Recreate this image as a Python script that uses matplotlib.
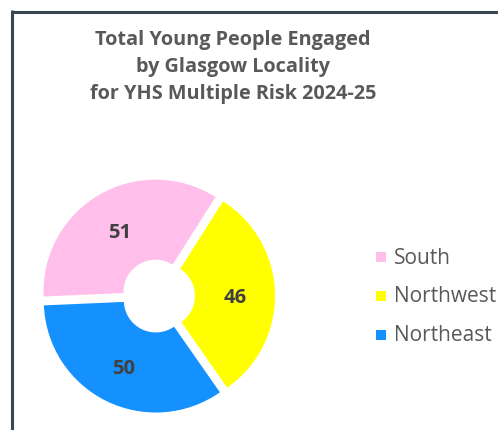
import matplotlib
matplotlib.use("Agg")
import matplotlib.pyplot as plt
from matplotlib.patches import Rectangle
from matplotlib.lines import Line2D
import numpy as np

# Data
localities = ["South", "Northwest", "Northeast"]
young_people = [51, 46, 50]
slice_colors = ["#FFBFEA", "#FFFF00", "#1591FF"]

title_lines = "Total Young People Engaged\nby Glasgow Locality\nfor YHS Multiple Risk 2024-25"

W, H = 498, 431
fig = plt.figure(figsize=(W / 100, H / 100), dpi=100)
fig.patch.set_facecolor("white")

# Chart frame (continues past the right and bottom edges)
frame_color = "#3B4654"
fig.add_artist(Line2D([11.5 / W, 1.0], [1 - 12.5 / H, 1 - 12.5 / H],
                      transform=fig.transFigure, color=frame_color, lw=2.2,
                      solid_capstyle="butt"))
fig.add_artist(Line2D([11.5 / W, 11.5 / W], [0.0, 1 - 11.4 / H],
                      transform=fig.transFigure, color=frame_color, lw=2.2,
                      solid_capstyle="butt"))

# Title
fig.text(233 / W, 1 - 67 / H, title_lines, ha="center", va="center",
         fontsize=14.3, fontweight="bold", color="#595959",
         family="Open Sans", linespacing=1.5)

# Donut axes: centre at (158, 297) px, outer radius ~112 px
R_px = 112
cx, cy = 158, 297
half = R_px + 10
ax = fig.add_axes([(cx - half) / W, 1 - (cy + half) / H, 2 * half / W, 2 * half / H])

ring_width = 0.715
explode = [0.045] * len(young_people)
wedges, texts = ax.pie(
    young_people,
    colors=slice_colors,
    startangle=182.5,
    counterclock=False,
    explode=explode,
    radius=1.0,
    wedgeprops=dict(width=ring_width, linewidth=0),
)
lim = half / R_px
ax.set_xlim(-lim, lim)
ax.set_ylim(-lim, lim)
ax.set_aspect("equal")
ax.axis("off")

# Value labels at the middle of each ring segment
for w, v in zip(wedges, young_people):
    ang = np.deg2rad((w.theta1 + w.theta2) / 2)
    cxw, cyw = w.center
    r_mid = 1.0 - ring_width / 2
    ax.text(cxw + r_mid * np.cos(ang), cyw + r_mid * np.sin(ang), str(v),
            ha="center", va="center_baseline", fontsize=14.5, fontweight="bold",
            color="#404040", family="Open Sans")

# Legend
leg_x = 376
leg_ys = [258, 297, 336]
for name, col, y in zip(localities, slice_colors, leg_ys):
    fig.add_artist(Rectangle((leg_x / W, 1 - (y + 5) / H), 10 / W, 10 / H,
                             transform=fig.transFigure, facecolor=col,
                             edgecolor="none"))
    fig.text(394 / W, 1 - y / H, name, ha="left", va="center",
             fontsize=15, color="#595959", family="Open Sans")

fig.savefig("out.png", dpi=100)
